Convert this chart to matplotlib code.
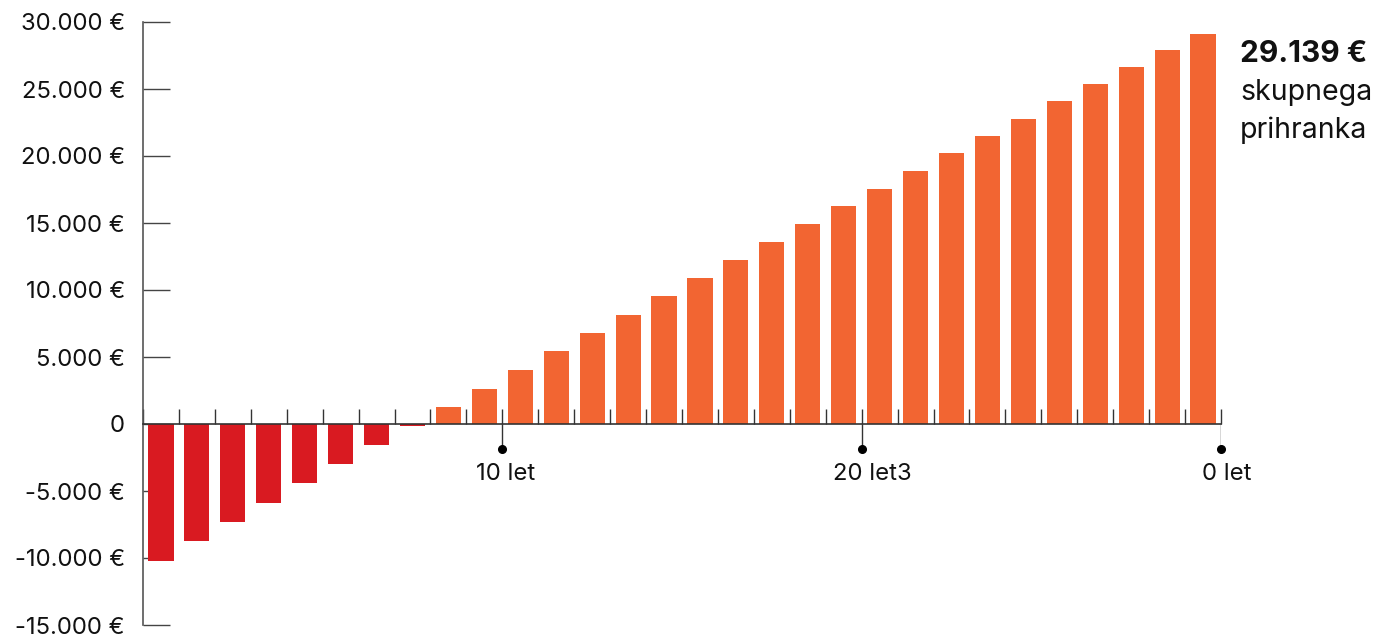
import numpy as np
import matplotlib
matplotlib.use("Agg")
import matplotlib.pyplot as plt

plt.rcParams['font.family'] = ['Inter', 'DejaVu Sans']

# savings per year (EUR)
years = np.arange(1, 31)
savings = [-10200, -8730, -7310, -5900, -4400, -2990, -1570, -150,
           1270, 2610, 4030, 5450, 6790, 8130, 9550, 10900, 12240, 13580,
           14930, 16270, 17540, 18880, 20220, 21490, 22760, 24100, 25370,
           26640, 27910, 29139]
ytick_vals = [30000, 25000, 20000, 15000, 10000, 5000, 0, -5000, -10000, -15000]
ytick_labels = ["30.000 €", "25.000 €", "20.000 €", "15.000 €", "10.000 €",
                "5.000 €", "0", "-5.000 €", "-10.000 €", "-15.000 €"]
major_years = [10, 20, 30]
major_labels = ["10 let", "20 let3", "0 let"]
total_label = "29.139 €"
total_text = ["skupnega", "prihranka"]

red = "#D91A21"
orange = "#F26532"
colors = [red if v < 0 else orange for v in savings]

fig = plt.figure(figsize=(13.85, 6.38), dpi=100)
ax = fig.add_axes([143/1385, 13/638, 1078/1385, 603/638])

ax.bar(years - 0.5, savings, width=0.7, color=colors, zorder=2)

ax.set_xlim(0, 30)
ax.set_ylim(-15000, 30000)

for s in ["top", "right"]:
    ax.spines[s].set_visible(False)
ax.spines["left"].set_color("#555555")
ax.spines["left"].set_linewidth(1.2)
ax.spines["bottom"].set_position(("data", 0))
ax.spines["bottom"].set_bounds(0, 30)
ax.spines["bottom"].set_color("#333333")
ax.spines["bottom"].set_linewidth(1.2)
ax.spines["bottom"].set_zorder(3)

ax.set_yticks(ytick_vals)
ax.set_yticklabels(ytick_labels)
ax.tick_params(axis="y", direction="in", length=19.5, width=1, color="#444444",
               pad=13, labelsize=17.2, labelcolor="#111111")

ax.set_xticks(np.arange(0, 31))
ax.tick_params(axis="x", direction="in", length=10.8, width=1, color="#333333",
               labelbottom=False)

# major year markers below the axis
dot_y = -1850
ax.vlines(major_years, dot_y, 0, color="#333333", lw=1, zorder=3)
ax.plot(major_years, [dot_y] * len(major_years), "o", color="black",
        ms=5.5, zorder=4, clip_on=False)
label_dx = [0.08, 0.31, 0.17]
for x, lab, dx in zip(major_years, major_labels, label_dx):
    ax.text(x + dx, -3700, lab, ha="center", va="center", fontsize=17.2,
            color="#111111")

fig.text(1240/1385, 1 - 62/638, total_label, fontsize=21.5, fontweight="bold",
         va="baseline", ha="left", color="#111111")
for i, t in enumerate(total_text):
    fig.text(1240/1385, 1 - (100 + 38*i)/638, t, fontsize=20.5, va="baseline",
             ha="left", color="#111111")

fig.savefig("out.png", dpi=100)
